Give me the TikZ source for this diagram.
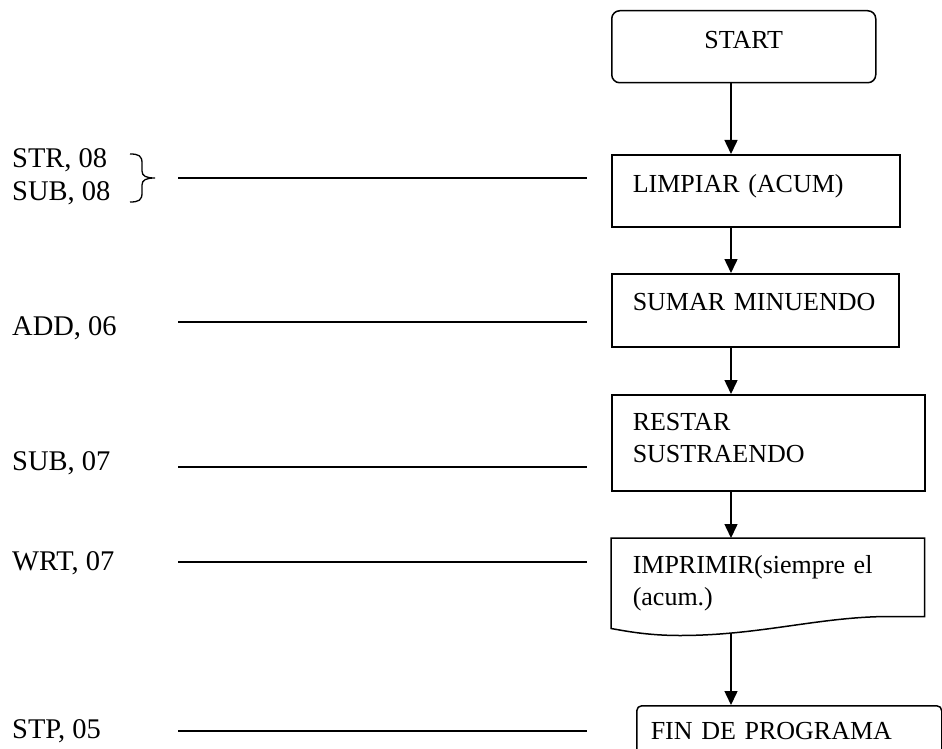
\documentclass[tikz,border=0pt]{standalone}
\usepackage{fontspec}
\setmainfont{Liberation Serif}
\usetikzlibrary{arrows.meta}
\begin{document}
\begin{tikzpicture}[x=1pt, y=-1pt, every node/.style={font=\fontsize{26}{32}\selectfont},
  box/.style={draw, line width=1.5pt, anchor=north west, inner xsep=21pt, inner ysep=0pt, align=left},
  flow/.style={line width=1.5pt, -{Triangle[length=14pt,width=13pt]}},
  lead/.style={line width=1.5pt},
  tag/.style={anchor=base west, inner sep=0pt, font=\fontsize{28.5}{34}\selectfont}]
\useasboundingbox (0,0) rectangle (942,749);
\clip (0,0) rectangle (942,749);
% flow chart column
\node[box, rounded corners=8pt, inner xsep=0pt, align=center, text width=264pt, text height=38pt, text depth=34pt] (start) at (611,10) {START};
\node[box, text width=246pt, text height=38pt, text depth=34pt] (limpiar) at (611,154) {LIMPIAR (ACUM)};
\node[box, text width=245pt, text height=37pt, text depth=36pt] (sumar) at (611,273) {SUMAR MINUENDO};
\node[box, text width=271pt, text height=36pt, text depth=60pt] (restar) at (611,394) {RESTAR\\SUSTRAENDO};
\node[box, draw=none, text width=270pt, text height=35pt, text depth=42pt] (imprimir) at (611,538) {IMPRIMIR(siempre el\\(acum.)};
\node[box, rounded corners=5pt, inner xsep=14pt, text width=277pt, text height=34pt, text depth=40pt] (fin) at (636,705) {FIN DE PROGRAMA};
% document shape with wavy bottom
\draw[lead] (imprimir.north west) -- (imprimir.north east) -- (imprimir.south east)
  -- ([shift={(279,0)}]imprimir.south west)
  .. controls ([shift={(209,0)}]imprimir.south west) and ([shift={(149,19)}]imprimir.south west) .. ([shift={(69,19)}]imprimir.south west)
  .. controls ([shift={(35,19)}]imprimir.south west) and ([shift={(12,14)}]imprimir.south west) .. ([shift={(0,12)}]imprimir.south west)
  -- cycle;
\coordinate (axis) at (731,0);
\coordinate (wave) at ([shift={(120,17)}]imprimir.south west);
\foreach \a/\b in {start/limpiar, limpiar/sumar, sumar/restar, restar/imprimir}
  \draw[flow] (\a.south -| axis) -- (\b.north -| axis);
\draw[flow] (wave -| axis) -- (fin.north -| axis);
% instructions on the left
\foreach \name/\txt/\base in {str/{STR, 08}/167, sub/{SUB, 08}/200, add/{ADD, 06}/335, res/{SUB, 07}/470, wrt/{WRT, 07}/570, stp/{STP, 05}/738}
  \node[tag] (\name) at (12,\base) {\txt};
\draw[line width=1.3pt] (130,154) .. controls (139,154) and (142,156) .. (142,163) -- (142,171)
  .. controls (142,176) and (146,178) .. (155,178) .. controls (146,178) and (142,180) .. (142,185)
  -- (142,193) .. controls (142,200) and (139,202) .. (130,202);
\foreach \i/\y in {1/178, 2/322, 3/467, 4/562, 5/731} {
  \coordinate (lead\i) at (178,\y);
  \draw[lead, shorten >=24pt] (lead\i) -- (lead\i -| limpiar.west);
}
\end{tikzpicture}
\end{document}
